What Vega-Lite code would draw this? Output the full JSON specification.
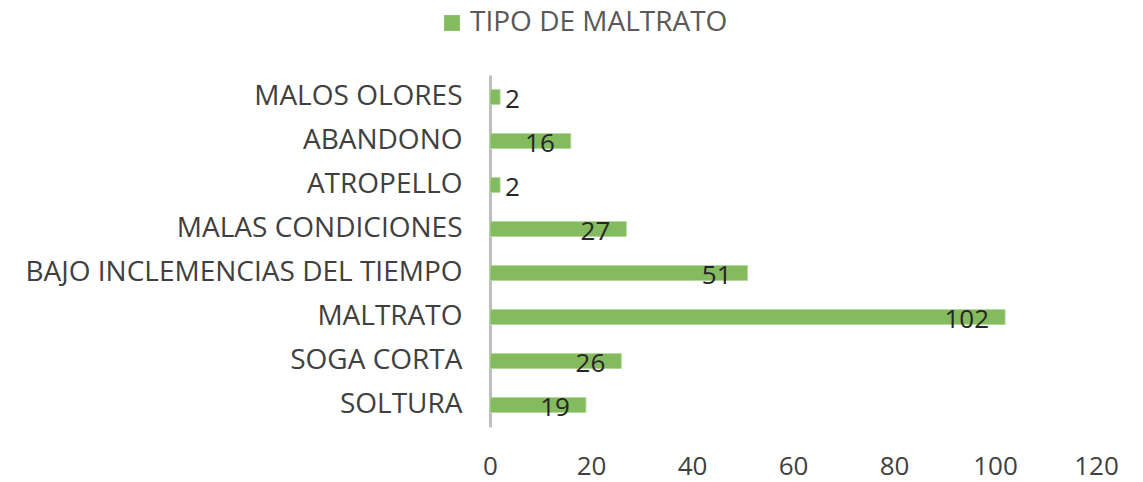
{
  "$schema": "https://vega.github.io/schema/vega-lite/v6.json",
  "autosize": "none",
  "width": 606,
  "height": 352,
  "padding": {"left": 490, "top": 75, "right": 47, "bottom": 55},
  "background": "white",
  "config": {"view": {"stroke": null}, "font": "Open Sans"},
  "data": {"values": [
    {"tipo": "MALOS OLORES", "n": 2, "serie": "TIPO DE MALTRATO"},
    {"tipo": "ABANDONO\u2002", "n": 16, "serie": "TIPO DE MALTRATO"},
    {"tipo": "ATROPELLO", "n": 2, "serie": "TIPO DE MALTRATO"},
    {"tipo": "MALAS CONDICIONES", "n": 27, "serie": "TIPO DE MALTRATO"},
    {"tipo": "BAJO INCLEMENCIAS DEL TIEMPO", "n": 51, "serie": "TIPO DE MALTRATO"},
    {"tipo": "MALTRATO", "n": 102, "serie": "TIPO DE MALTRATO"},
    {"tipo": "SOGA CORTA", "n": 26, "serie": "TIPO DE MALTRATO"},
    {"tipo": "SOLTURA", "n": 19, "serie": "TIPO DE MALTRATO"}
  ]},
  "encoding": {
    "y": {"field": "tipo", "type": "nominal", "sort": null, "title": null,
      "scale": {"paddingInner": 0.66, "paddingOuter": 0.33},
      "axis": {"domainColor": "#BFBFBF", "domainWidth": 3, "ticks": false, "labelFontSize": 28, "labelColor": "#404040", "labelPadding": 28, "labelLimit": 600}},
    "x": {"field": "n", "type": "quantitative", "title": null,
      "scale": {"domain": [0, 120]},
      "axis": {"values": [0, 20, 40, 60, 80, 100, 120], "domain": false, "ticks": false, "grid": false, "labelFontSize": 26, "labelColor": "#404040", "labelPadding": 26, "labelFlush": false}}
  },
  "layer": [
    {"mark": {"type": "bar", "stroke": "#B5D89D", "strokeWidth": 1},
      "encoding": {"color": {"field": "serie", "type": "nominal", "scale": {"range": ["#84BB5E"]},
        "legend": {"orient": "none", "legendX": -52, "legendY": -66, "title": null, "symbolType": "square", "symbolSize": 250, "symbolStrokeWidth": 0, "labelFontSize": 28, "labelColor": "#595959", "labelLimit": 600}}}},
    {"transform": [{"filter": "datum.n >= 10"}],
      "mark": {"type": "text", "align": "right", "baseline": "middle", "dx": -16, "dy": 3, "fontSize": 26, "color": "#262626"},
      "encoding": {"text": {"field": "n"}}},
    {"transform": [{"filter": "datum.n < 10"}],
      "mark": {"type": "text", "align": "left", "baseline": "middle", "dx": 5, "dy": 3, "fontSize": 26, "color": "#262626"},
      "encoding": {"text": {"field": "n"}}}
  ]
}
